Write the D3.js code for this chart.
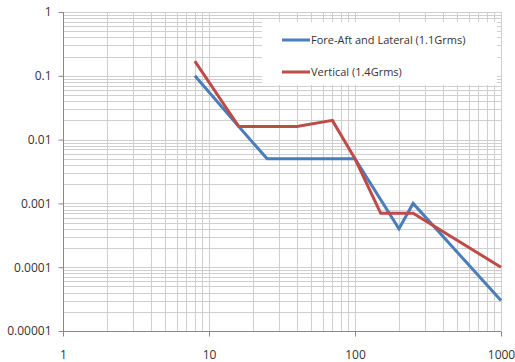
<!DOCTYPE html>
<html><head><meta charset="utf-8">
<script src="https://cdn.jsdelivr.net/npm/d3@7"></script>
<style>body{margin:0;background:#fff}svg{display:block}text{font-family:"Open Sans","Liberation Sans",sans-serif}</style>
</head><body>
<script>
const seriesNames = ["Fore-Aft and Lateral (1.1Grms)", "Vertical (1.4Grms)"];
const seriesColors = ["#4a7ebb", "#be4b48"];
const blueFreq = [8, 16, 25, 100, 200, 250, 1000];
const blueVal  = [0.1, 0.016, 0.005, 0.005, 0.0004, 0.001, 0.00003];
const redFreq  = [8, 16, 40, 70, 100, 150, 250, 1000];
const redVal   = [0.17, 0.016, 0.016, 0.02, 0.005, 0.0007, 0.0007, 0.0001];
const xTicks = [1, 10, 100, 1000];
const xTickLabels = ["1", "10", "100", "1000"];
const yTicks = [1, 0.1, 0.01, 0.001, 0.0001, 0.00001];
const yTickLabels = ["1", "0.1", "0.01", "0.001", "0.0001", "0.00001"];

const W = 515, H = 362;
const m = {left: 63, right: 14, top: 12, bottom: 31};
const svg = d3.select("body").append("svg").attr("width", W).attr("height", H);
const x = d3.scaleLog().domain([1, 1000]).range([m.left, W - m.right]);
const y = d3.scaleLog().domain([0.00001, 1]).range([H - m.bottom, m.top]);

// minor + major grid
const xMinor = [], yMinor = [];
for (let d = 1; d < 1000; d *= 10) for (let k = 2; k <= 10; k++) xMinor.push(d * k);
for (let d = 0.00001; d < 0.99; d *= 10) for (let k = 2; k <= 10; k++) yMinor.push(d * k);
const g = svg.append("g");
g.selectAll(".gx").data(xMinor).join("line")
  .attr("x1", d => Math.round(x(d)) + 0.5).attr("x2", d => Math.round(x(d)) + 0.5)
  .attr("y1", m.top).attr("y2", H - m.bottom)
  .attr("stroke", "#cfcfcf").attr("stroke-width", 1);
g.selectAll(".gy").data(yMinor).join("line")
  .attr("y1", d => Math.round(y(d)) + 0.5).attr("y2", d => Math.round(y(d)) + 0.5)
  .attr("x1", m.left).attr("x2", W - m.right)
  .attr("stroke", "#cfcfcf").attr("stroke-width", 1);

// axes
const xAxis = d3.axisBottom(x).tickValues(xTicks).tickFormat((d, i) => xTickLabels[i]).tickSize(5).tickPadding(14);
const yAxis = d3.axisLeft(y).tickValues(yTicks).tickFormat((d, i) => yTickLabels[i]).tickSize(5).tickPadding(7);
const gx = svg.append("g").attr("transform", `translate(0,${H - m.bottom + 0.5})`).call(xAxis);
const gy = svg.append("g").attr("transform", `translate(${m.left + 0.5},0)`).call(yAxis);
[gx, gy].forEach(a => {
  a.select(".domain").attr("stroke", "#888").attr("d", null);
  a.selectAll(".tick line").attr("stroke", "#888");
  a.selectAll("text").attr("fill", "#333").style("font-size", "12px");
});
svg.append("line").attr("x1", m.left + 0.5).attr("x2", m.left + 0.5).attr("y1", m.top).attr("y2", H - m.bottom).attr("stroke", "#888");
svg.append("line").attr("x1", m.left).attr("x2", W - m.right).attr("y1", H - m.bottom + 0.5).attr("y2", H - m.bottom + 0.5).attr("stroke", "#888");

// legend background
svg.append("rect").attr("x", 262).attr("y", 22).attr("width", 235).attr("height", 63).attr("fill", "#fff");

// lines
const line = d3.line().x(d => x(d[0])).y(d => y(d[1]));
const data = [blueFreq.map((f, i) => [f, blueVal[i]]), redFreq.map((f, i) => [f, redVal[i]])];
svg.selectAll(".series").data(data).join("path")
  .attr("d", line).attr("fill", "none")
  .attr("stroke", (d, i) => seriesColors[i]).attr("stroke-width", 3)
  .attr("stroke-linejoin", "miter");

// legend
const lg = svg.append("g");
seriesNames.forEach((n, i) => {
  const yy = 40 + i * 32;
  lg.append("line").attr("x1", 282).attr("x2", 310).attr("y1", yy).attr("y2", yy)
    .attr("stroke", seriesColors[i]).attr("stroke-width", 3);
  lg.append("text").attr("x", 311).attr("y", yy + 4).text(n)
    .style("font-size", "11px").attr("fill", "#333");
});
</script>
</body></html>
